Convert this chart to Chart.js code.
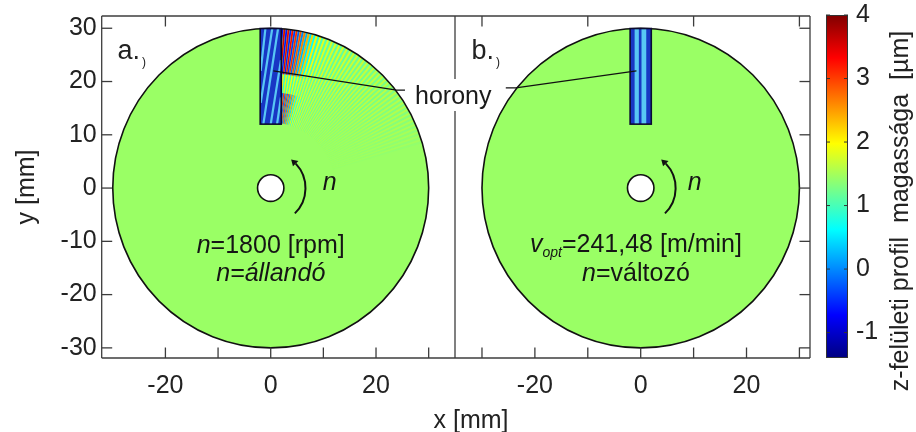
<!DOCTYPE html>
<html><head><meta charset="utf-8">
<script src="https://cdn.jsdelivr.net/npm/chart.js@4.4.1/dist/chart.umd.min.js"></script>
<style>
html,body{margin:0;padding:0;background:#fff;width:916px;height:432px;overflow:hidden}
canvas{position:absolute;left:0;top:0}
</style></head><body>
<canvas id="cL" width="916" height="432"></canvas>
<canvas id="cR" width="916" height="432"></canvas>
<canvas id="cC" width="916" height="432"></canvas>
<script>
// ---------- data ----------
const xTickLabels = [-20, 0, 20];
const yTickLabels = [-30, -20, -10, 0, 10, 20, 30];
const cbTickLabels = [-1, 0, 1, 2, 3, 4];
const xTickMarksBottomL = [-20, -10, 0, 10, 20, 30];
const xTickMarksTopL = [-20, 0, 20];
const xTickMarksBottomR = [-30, -20, -10, 0, 10, 20, 30];
const xTickMarksTopR = [-30, -10, 10, 30];
const yTickMarks = [-30, -20, -10, 0, 10, 20, 30];
const xRangeL = [-32.1, 35.0];
const xRangeR = [-35.1, 32.0];
const yRange = [-31.9, 32.3];
const cbRange = [-1.4, 4.0];
const diskRadius = 30;
const holeRadius = 2.5;
const diskValue = 1.44;
const grooveXRange = [-2, 2];
const grooveYRange = [12, 29.95];
// slanted light streaks inside groove a.) : [x0,y0,x1,y1] mm
const grooveStreaksL = [[-1.0, 30, -1.9, 22], [0.3, 30, -1.9, 16], [1.4, 30, -1.4, 12], [1.95, 24, 0.0, 12], [1.95, 17, 1.2, 12]];
// vertical light strips inside groove b.) : [x0,x1] mm
const grooveStripsR = [[-1.15, -0.35], [0.15, 1.05]];
// wave pattern behind the groove (panel a.)): stripe angle [deg], amplitude [µm] per radial band
const stripeAngles = [88, 86.5, 85, 83.5, 82, 80.5, 79, 77.5, 76, 74.5, 73, 71.5, 70, 68.5, 67, 65.5, 64, 62.5, 61, 59.5, 58, 56.5, 55, 53.5, 52, 50.5, 49, 47.5, 46, 44.5, 43, 41.5, 40, 38.5, 37, 35.5, 34, 32.5, 31, 29.5, 28, 26.5, 25, 23.5, 22, 20.5, 19, 17.5];
const outerAmp = [2.2, 2.2, 2.1, 2.0, 1.9, 1.7, 1.5, 1.25, 1.0, 0.8, 0.6, 0.45, 0.38, 0.35, 0.33, 0.32, 0.31, 0.3, 0.29, 0.28, 0.27, 0.26, 0.25, 0.24, 0.23, 0.22, 0.21, 0.2, 0.2, 0.19, 0.18, 0.18, 0.17, 0.16, 0.15, 0.15, 0.14, 0.13, 0.12, 0.12, 0.11, 0.1, 0.09, 0.08, 0.07, 0.06, 0.05, 0.04];
const midAmp = [0.7, 0.7, 0.68, 0.65, 0.6, 0.55, 0.5, 0.45, 0.4, 0.36, 0.33, 0.31, 0.3, 0.29, 0.28, 0.27, 0.26, 0.25, 0.24, 0.23, 0.22, 0.21, 0.2, 0.2, 0.19, 0.18, 0.17, 0.16, 0.15, 0.15, 0.14, 0.13, 0.12, 0.12, 0.11, 0.1, 0.1, 0.09, 0.08, 0.08, 0.07, 0.06, 0.06, 0.05, 0.05, 0.04, 0.04, 0.03];
const innerAmp = [1.5, 1.5, 1.6, 1.7, 1.7, 1.6, 1.45, 1.25, 1.0, 0.8, 0.6, 0.45, 0.38, 0.33, 0.3, 0.27, 0.25, 0.24, 0.23, 0.22, 0.21, 0.2, 0.19, 0.18, 0.17, 0.16, 0.15, 0.14, 0.13, 0.12, 0.11, 0.1, 0.1, 0.09, 0.08, 0.08, 0.07, 0.06, 0.06, 0.05, 0.05, 0.04, 0.04, 0.03, 0.03, 0.02, 0.02, 0.02];
const bandRadii = [[12.3, 18], [18, 21.5], [21.5, 30.5]];
// leader lines "horony" (mm)
const leaderLX = [0.5, 23.9, 25.5];
const leaderLY = [22.0, 18.4, 18.4];
const leaderRX = [-0.8, -23.6, -25.5];
const leaderRY = [22.0, 18.8, 18.8];
// rotation arrow
const arrowRadius = 6.6;
const arrowAngles = [-46, 44, 54];

// ---------- styling ----------
const FONT = "'Liberation Sans', Arial, Helvetica, sans-serif";
Chart.defaults.font.family = FONT;
Chart.defaults.font.size = 25;
Chart.defaults.color = '#222';
const FRAME = '#3c3c3c';
const DARK_BLUE = '#1836c4';
const LIGHT_BLUE = '#58c6f4';

function jet(v) {
  const f = (v - cbRange[0]) / (cbRange[1] - cbRange[0]);
  const c = t => Math.max(0, Math.min(1, 1.5 - Math.abs(4 * f - t)));
  return `rgb(${Math.round(255 * c(3))},${Math.round(255 * c(2))},${Math.round(255 * c(1))})`;
}
function P(chart, x, y) { return [chart.scales.x.getPixelForValue(x), chart.scales.y.getPixelForValue(y)]; }
function circlePath(ctx, chart, r) {
  const [cx, cy] = P(chart, 0, 0);
  const rx = chart.scales.x.getPixelForValue(r) - cx;
  const ry = cy - chart.scales.y.getPixelForValue(r);
  ctx.beginPath(); ctx.ellipse(cx, cy, rx, ry, 0, 0, Math.PI * 2);
}
function wedge(ctx, chart, a, w, r0, r1, color) {
  const d = Math.PI / 180, a0 = (a - w / 2) * d, a1 = (a + w / 2) * d;
  const pts = [[r0, a0], [r1, a0], [r1, a1], [r0, a1]].map(([r, t]) => P(chart, r * Math.cos(t), r * Math.sin(t)));
  ctx.beginPath(); ctx.moveTo(pts[0][0], pts[0][1]);
  for (let i = 1; i < 4; i++) ctx.lineTo(pts[i][0], pts[i][1]);
  ctx.closePath(); ctx.fillStyle = color; ctx.fill();
}
function drawStripes(ctx, chart) {
  ctx.save(); circlePath(ctx, chart, diskRadius); ctx.clip();
  ctx.filter = 'blur(0.35px)';
  const amps = [innerAmp, midAmp, outerAmp];
  for (let i = 0; i < stripeAngles.length; i++) {
    for (let b = 0; b < 3; b++) {
      const A = amps[b][i], [r0, r1] = bandRadii[b];
      wedge(ctx, chart, stripeAngles[i], 0.66, r0, r1, jet(diskValue + A));
      wedge(ctx, chart, stripeAngles[i] - 0.75, 0.66, r0, r1, jet(diskValue - A));
    }
  }
  ctx.restore();
}
function drawGroove(ctx, chart, side) {
  const [x0, y0] = P(chart, grooveXRange[0], grooveYRange[1]);
  const [x1, y1] = P(chart, grooveXRange[1], grooveYRange[0]);
  ctx.save();
  ctx.fillStyle = DARK_BLUE; ctx.fillRect(x0, y0, x1 - x0, y1 - y0);
  ctx.beginPath(); ctx.rect(x0, y0, x1 - x0, y1 - y0); ctx.clip();
  if (side === 'L') {
    ctx.strokeStyle = LIGHT_BLUE; ctx.lineWidth = 2.2;
    grooveStreaksL.forEach(([a, b, c, d]) => {
      const p = P(chart, a, b), q = P(chart, c, d);
      ctx.beginPath(); ctx.moveTo(p[0], p[1]); ctx.lineTo(q[0], q[1]); ctx.stroke();
    });
  } else {
    ctx.fillStyle = LIGHT_BLUE;
    grooveStripsR.forEach(([a, b]) => {
      const pa = chart.scales.x.getPixelForValue(a), pb = chart.scales.x.getPixelForValue(b);
      ctx.fillRect(pa, y0, pb - pa, y1 - y0);
    });
  }
  ctx.restore();
  ctx.save(); ctx.strokeStyle = '#0b0b30'; ctx.lineWidth = 1.6;
  ctx.strokeRect(x0, y0, x1 - x0, y1 - y0); ctx.restore();
}
function drawArrow(ctx, chart) {
  const [cx, cy] = P(chart, 0, 0);
  const rx = chart.scales.x.getPixelForValue(arrowRadius) - cx;
  const ry = cy - chart.scales.y.getPixelForValue(arrowRadius);
  const d = Math.PI / 180;
  ctx.save(); ctx.strokeStyle = '#111'; ctx.fillStyle = '#111'; ctx.lineWidth = 2;
  ctx.beginPath(); ctx.ellipse(cx, cy, rx, ry, 0, -arrowAngles[1] * d, -arrowAngles[0] * d); ctx.stroke();
  const tip = [cx + rx * Math.cos(arrowAngles[2] * d), cy - ry * Math.sin(arrowAngles[2] * d)];
  const bc = [cx + rx * Math.cos(arrowAngles[1] * d), cy - ry * Math.sin(arrowAngles[1] * d)];
  const n = [Math.cos(arrowAngles[1] * d), -Math.sin(arrowAngles[1] * d)];
  ctx.beginPath(); ctx.moveTo(tip[0], tip[1]);
  ctx.lineTo(bc[0] + n[0] * 3.8, bc[1] + n[1] * 3.8);
  ctx.lineTo(bc[0] - n[0] * 3.8, bc[1] - n[1] * 3.8);
  ctx.closePath(); ctx.fill();
  ctx.restore();
}
function drawRuns(ctx, runs, cx, baseline) {
  let total = 0;
  runs.forEach(r => { ctx.font = r[1]; r.w = ctx.measureText(r[0]).width; total += r.w; });
  let x = cx - total / 2;
  ctx.textAlign = 'left'; ctx.textBaseline = 'alphabetic';
  runs.forEach(r => { ctx.font = r[1]; ctx.fillText(r[0], x, baseline + (r[2] || 0)); x += r.w; });
}
function line(ctx, x0, y0, x1, y1) { ctx.beginPath(); ctx.moveTo(x0, y0); ctx.lineTo(x1, y1); ctx.stroke(); }

const IT = `italic 25px ${FONT}`, RG = `25px ${FONT}`;
const panelText = {
  L: { cx: 0, b1: -12.2, b2: -17.4, nx: 9.9, ny: -0.4, lx: -29.1, ly: 24.3, label: 'a.',
       line1: [['n', IT], ['=1800 [rpm]', RG]], line2: [['n=állandó', IT]] },
  R: { cx: -0.9, b1: -12.0, b2: -17.4, nx: 8.9, ny: -0.4, lx: -32.0, ly: 24.3, label: 'b.',
       line1: [['v', IT], ['opt', `italic 14px ${FONT}`, 5], ['=241,48 [m/min]', RG]], line2: [['n', IT], ['=változó', RG]] }
};

function panelPlugin(side) {
  return {
    id: 'panel' + side,
    beforeDatasetsDraw(chart) {
      const ctx = chart.ctx;
      ctx.save();
      circlePath(ctx, chart, diskRadius); ctx.fillStyle = jet(diskValue); ctx.fill();
      if (side === 'L') drawStripes(ctx, chart);
      circlePath(ctx, chart, diskRadius); ctx.lineWidth = 1.6; ctx.strokeStyle = '#111'; ctx.stroke();
      drawGroove(ctx, chart, side);
      circlePath(ctx, chart, holeRadius); ctx.fillStyle = '#fff'; ctx.fill(); ctx.lineWidth = 1.6; ctx.strokeStyle = '#111'; ctx.stroke();
      ctx.restore();
    },
    afterDatasetsDraw(chart) {
      const ctx = chart.ctx, a = chart.chartArea, xs = chart.scales.x, ys = chart.scales.y;
      ctx.save();
      drawArrow(ctx, chart);
      const T = panelText[side];
      ctx.fillStyle = '#151515';
      drawRuns(ctx, T.line1.map(r => r.slice()), xs.getPixelForValue(T.cx), ys.getPixelForValue(T.b1));
      drawRuns(ctx, T.line2.map(r => r.slice()), xs.getPixelForValue(T.cx), ys.getPixelForValue(T.b2));
      ctx.font = IT; ctx.textAlign = 'left';
      ctx.fillText('n', xs.getPixelForValue(T.nx), ys.getPixelForValue(T.ny));
      ctx.fillStyle = '#222';
      ctx.font = `27px ${FONT}`;
      const lx = xs.getPixelForValue(T.lx), ly = ys.getPixelForValue(T.ly);
      ctx.fillText(T.label, lx, ly);
      const w = ctx.measureText(T.label).width;
      ctx.font = `12px ${FONT}`; ctx.fillText(')', lx + w + 2, ly + 7);
      // frame
      ctx.strokeStyle = FRAME; ctx.lineWidth = 1.3;
      line(ctx, a.left, a.top, a.right, a.top);
      line(ctx, a.left, a.bottom, a.right, a.bottom);
      if (side === 'L') { line(ctx, a.left, a.top, a.left, a.bottom); }
      else { line(ctx, a.right, a.top, a.right, a.bottom); }
      // ticks (inward)
      const TL = 10.5;
      (side === 'L' ? xTickMarksBottomL : xTickMarksBottomR).forEach(v => { const p = xs.getPixelForValue(v); line(ctx, p, a.bottom, p, a.bottom - TL); });
      (side === 'L' ? xTickMarksTopL : xTickMarksTopR).forEach(v => { const p = xs.getPixelForValue(v); line(ctx, p, a.top, p, a.top + TL); });
      yTickMarks.forEach(v => { const p = ys.getPixelForValue(v);
        if (side === 'L') line(ctx, a.left, p, a.left + TL, p); else line(ctx, a.right, p, a.right - TL, p); });
      if (side === 'L') {
        ctx.font = RG; ctx.textAlign = 'left'; ctx.textBaseline = 'alphabetic';
        const tw = ctx.measureText('horony').width;
        line(ctx, a.right, a.top, a.right, a.bottom);
        ctx.fillStyle = '#fff'; ctx.fillRect(413, 79, tw + 4, 32);
        ctx.fillStyle = '#1a1a1a'; ctx.fillText('horony', 415, 104);
        ctx.fillStyle = '#222'; ctx.textAlign = 'center';
        ctx.fillText('x [mm]', 471, 428);
      }
      ctx.restore();
    }
  };
}

function panelConfig(side) {
  const L = side === 'L';
  const lx = L ? leaderLX : leaderRX, ly = L ? leaderLY : leaderRY;
  return {
    type: 'scatter',
    data: { datasets: [{ data: lx.map((x, i) => ({ x, y: ly[i] })), showLine: true, borderColor: '#111', borderWidth: 1.2, pointRadius: 0, fill: false, tension: 0 }] },
    options: {
      responsive: false, animation: false, devicePixelRatio: 1,
      layout: { padding: L ? { left: 0, top: 16, right: 461, bottom: 0 } : { left: 455, top: 16, right: 106, bottom: 0 } },
      plugins: { legend: { display: false }, tooltip: { enabled: false } },
      scales: {
        x: {
          type: 'linear', min: (L ? xRangeL : xRangeR)[0], max: (L ? xRangeL : xRangeR)[1],
          afterBuildTicks: s => { s.ticks = xTickLabels.map(v => ({ value: v })); },
          afterFit: s => { s.height = 74; s.paddingLeft = 0; s.paddingRight = 0; },
          grid: { display: false, drawTicks: false }, border: { display: false },
          ticks: { padding: 13, maxRotation: 0, autoSkip: false, color: '#222', callback: v => String(v) }
        },
        y: {
          type: 'linear', display: L, min: yRange[0], max: yRange[1],
          afterBuildTicks: s => { s.ticks = yTickLabels.map(v => ({ value: v })); },
          afterFit: s => { s.width = L ? 101.7 : 0; s.paddingTop = 0; s.paddingBottom = 0; },
          grid: { display: false, drawTicks: false }, border: { display: false },
          ticks: { padding: 5, autoSkip: false, color: '#222', callback: v => String(v) },
          title: { display: L, text: 'y [mm]', color: '#222', padding: { top: 12, bottom: 0 }, font: { size: 25 } }
        }
      }
    },
    plugins: [panelPlugin(side)]
  };
}

new Chart(document.getElementById('cL'), panelConfig('L'));
new Chart(document.getElementById('cR'), panelConfig('R'));

// ---------- colour bar ----------
const cbPlugin = {
  id: 'cb',
  afterDatasetsDraw(chart) {
    const ctx = chart.ctx, a = chart.chartArea, ys = chart.scales.y;
    ctx.save();
    ctx.strokeStyle = '#333'; ctx.lineWidth = 1;
    ctx.strokeRect(a.left + 0.5, a.top + 0.5, a.right - a.left - 1, a.bottom - a.top - 1);
    cbTickLabels.forEach(v => { const p = ys.getPixelForValue(v);
      line(ctx, a.left, p, a.left + 4, p); line(ctx, a.right, p, a.right - 4, p); });
    ctx.fillStyle = '#222'; ctx.font = `25px ${FONT}`; ctx.textAlign = 'center'; ctx.textBaseline = 'middle';
    ctx.translate(901, 211); ctx.rotate(-Math.PI / 2);
    ctx.fillText('z-felületi profil  magassága  [µm]', 0, 0);
    ctx.restore();
  }
};
new Chart(document.getElementById('cC'), {
  type: 'bar',
  data: { labels: [''], datasets: [{
    data: [cbRange], borderWidth: 0, barPercentage: 1, categoryPercentage: 1,
    backgroundColor: c => {
      const ch = c.chart; if (!ch.chartArea) return jet(1);
      const y = ch.scales.y;
      const g = ch.ctx.createLinearGradient(0, y.getPixelForValue(cbRange[0]), 0, y.getPixelForValue(cbRange[1]));
      for (let i = 0; i <= 24; i++) { const t = i / 24; g.addColorStop(t, jet(cbRange[0] + t * (cbRange[1] - cbRange[0]))); }
      return g;
    }
  }] },
  options: {
    responsive: false, animation: false, devicePixelRatio: 1,
    layout: { padding: { left: 826, top: 15, right: 0, bottom: 74 } },
    plugins: { legend: { display: false }, tooltip: { enabled: false } },
    scales: {
      x: { display: false },
      y: {
        position: 'right', min: cbRange[0], max: cbRange[1],
        afterBuildTicks: s => { s.ticks = cbTickLabels.map(v => ({ value: v })); },
        afterFit: s => { s.width = 68; s.paddingTop = 0; s.paddingBottom = 0; },
        grid: { display: false, drawTicks: false }, border: { display: false },
        ticks: { padding: 8, autoSkip: false, color: '#222', callback: v => String(v) }
      }
    }
  },
  plugins: [cbPlugin]
});
</script>
</body></html>
